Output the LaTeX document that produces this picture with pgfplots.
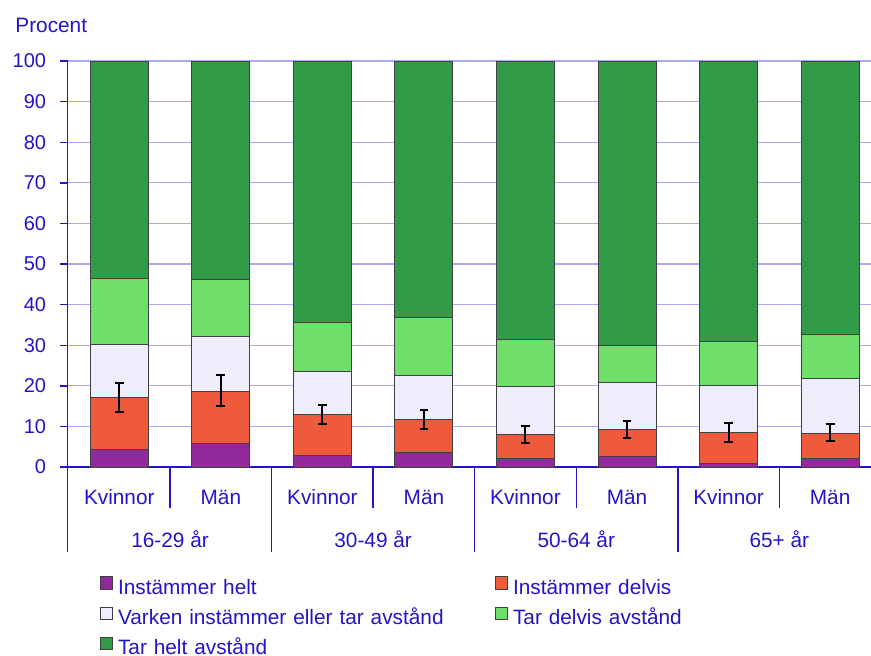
\documentclass[border=0pt]{standalone}
\usepackage{fontspec}
\setmainfont{Liberation Sans}
\usepackage{pgfplots}
\usepackage{pgfplotstable}
\pgfplotsset{compat=1.18}

\definecolor{txtblue}{RGB}{35,20,200}
\definecolor{gridblue}{RGB}{170,170,245}
\definecolor{cPurple}{RGB}{145,40,155}
\definecolor{cRed}{RGB}{239,90,60}
\definecolor{cLav}{RGB}{237,237,252}
\definecolor{cLight}{RGB}{112,222,106}
\definecolor{cDark}{RGB}{50,155,72}

% share per segment (bottom to top)
\pgfplotstableread{
x  helt  delvis varken tardelvis tarhelt
0  4.2   12.8   13.1   16.4      53.5
1  5.8   12.9   13.5   14.0      53.8
2  2.9   10.1   10.6   12.0      64.4
3  3.5   8.2    10.8   14.4      63.1
4  2.1   5.9    11.9   11.5      68.6
5  2.6   6.7    11.5   9.2       70.0
6  0.9   7.6    11.6   10.9      69.0
7  2.0   6.3    13.5   10.9      67.3
}\shares

\newcommand\lblfont{\fontsize{10.4}{12}\selectfont}

\pgfplotsset{
  common/.style={
    width=406.7pt, height=203pt, scale only axis,
    xmin=-0.51, xmax=7.5, ymin=0, ymax=100,
    font=\lblfont,
    /pgf/number format/assume math mode=true,
  },
}

\begin{document}
\begin{tikzpicture}
\begin{axis}[
    common,
    ybar stacked, bar width=29pt,
    clip=false,
    axis x line*=bottom, axis y line*=left,
    axis line style={txtblue, line width=0.7pt, -},
    ytick={0,10,...,100},
    ymajorgrids, grid style={gridblue, line width=0.6pt},
    tick align=outside, major tick length=3.5pt,
    ytick style={txtblue, line width=0.7pt},
    xtick={0,...,7}, xtick style={draw=none},
    xticklabels={Kvinnor,Män,Kvinnor,Män,Kvinnor,Män,Kvinnor,Män},
    xticklabel style={anchor=center, yshift=-11.5pt},
    yticklabel style={anchor=east, inner sep=0pt, xshift=-7pt, font=\fontsize{10}{12}\selectfont},
    ticklabel style={text=txtblue},
    every axis plot/.append style={draw=black!75, line width=0.5pt},
    legend style={
      draw=none, fill=none, inner sep=0pt,
      at={(0.0395,-0.2685)}, anchor=north west,
      font=\lblfont, text=txtblue,
      nodes={inner sep=1pt, text height=7.5pt, text depth=2pt},
      row sep=3.2pt,
      /tikz/every odd column/.append style={column sep=1.5pt},
      /tikz/every even column/.append style={text width=187.5pt, align=left},
    },
    legend columns=2,
    legend image code/.code={\draw[#1, draw=black!75, line width=0.5pt] (0pt,-0.3pt) rectangle (6pt,5.9pt);},
]
\addplot[fill=cPurple] table[x=x, y=helt] {\shares};
\addplot[fill=cRed] table[x=x, y=delvis] {\shares};
\addplot[fill=cLav] table[x=x, y=varken] {\shares};
\addplot[fill=cLight] table[x=x, y=tardelvis] {\shares};
\addplot[fill=cDark] table[x=x, y=tarhelt] {\shares};
\legend{Instämmer helt, Instämmer delvis, Varken instämmer eller tar avstånd, Tar delvis avstånd, Tar helt avstånd}

% category separators below the axis
\pgfplotsinvokeforeach{0.5,2.5,4.5,6.5}{
  \draw[txtblue, line width=0.7pt] (axis cs:#1,0) -- ++(0pt,-20.5pt);
}
\pgfplotsinvokeforeach{-0.51,1.5,3.5,5.5,7.5}{
  \draw[txtblue, line width=0.7pt] (axis cs:#1,0) -- ++(0pt,-42.5pt);
}
% age groups
\node[text=txtblue] at ([yshift=-36pt]axis cs:0.5,0) {16-29 år};
\node[text=txtblue] at ([yshift=-36pt]axis cs:2.5,0) {30-49 år};
\node[text=txtblue] at ([yshift=-36pt]axis cs:4.5,0) {50-64 år};
\node[text=txtblue] at ([yshift=-36pt]axis cs:6.5,0) {65+ år};
\node[text=txtblue, anchor=base west, inner sep=0pt] at ([xshift=-26.25pt, yshift=14.5pt]axis cs:-0.51,100) {Procent};
\end{axis}

% error bars on the cumulative "instämmer" share
\begin{axis}[
    common,
    hide axis,
]
\addplot[draw=none, mark=none,
  error bars/.cd, y dir=both, y explicit,
  error bar style={draw=black, line width=1pt},
  error mark options={rotate=90, mark size=2.2pt, draw=black, line width=1pt}]
  coordinates {
    (0,17.1) +- (0,3.65)
    (1,18.9) +- (0,3.8)
    (2,13.0) +- (0,2.35)
    (3,11.7) +- (0,2.25)
    (4,8.0)  +- (0,2.2)
    (5,9.25) +- (0,2.15)
    (6,8.5)  +- (0,2.3)
    (7,8.45) +- (0,2.15)
  };
\end{axis}

\pgfresetboundingbox
\path[use as bounding box] (-33.75pt,-94pt) rectangle (401.75pt,233.5pt);
\end{tikzpicture}
\end{document}
